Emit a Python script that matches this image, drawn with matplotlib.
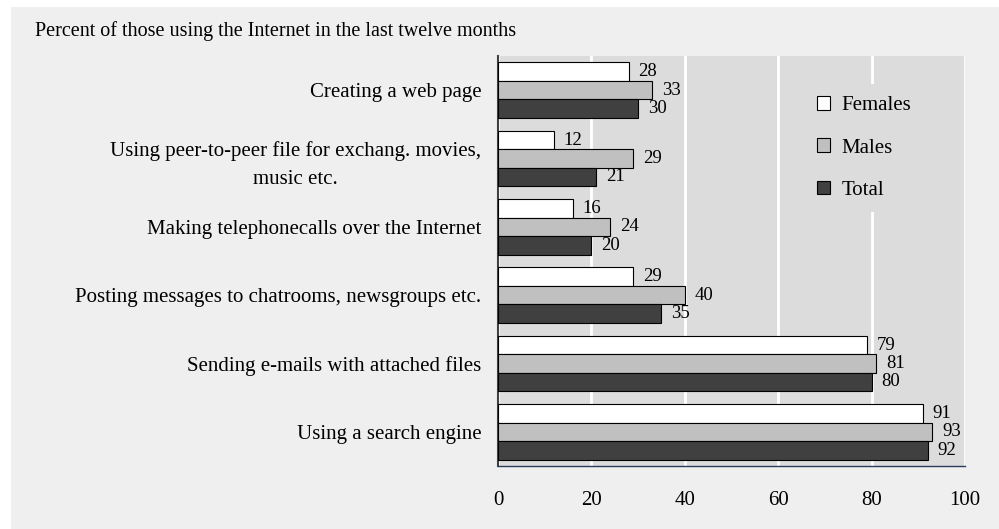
import matplotlib
matplotlib.use('Agg')
import matplotlib.pyplot as plt
import matplotlib.patches as mpatches
import numpy as np

categories = ['Creating a web page',
              'Using peer-to-peer file for exchang. movies,\nmusic etc.',
              'Making telephonecalls over the Internet',
              'Posting messages to chatrooms, newsgroups etc.',
              'Sending e-mails with attached files',
              'Using a search engine']
females = [28, 12, 16, 29, 79, 91]
males = [33, 29, 24, 40, 81, 93]
total = [30, 21, 20, 35, 80, 92]
series_names = ['Females', 'Males', 'Total']
colors = ['#ffffff', '#c0c0c0', '#404040']
xticks = [0, 20, 40, 60, 80, 100]

plt.rcParams['font.family'] = ['Liberation Serif', 'DejaVu Serif']

fig = plt.figure(figsize=(9.99, 5.29), dpi=100, facecolor='white')
# light grey panel behind everything, leaving a thin white margin top/left
fig.patches.append(mpatches.Rectangle((11 / 999, 0), 1, 1 - 7 / 529,
                                      transform=fig.transFigure,
                                      facecolor='#efefef', edgecolor='none', zorder=-1))

ax = fig.add_axes([498 / 999, 63 / 529, 467 / 999, 410 / 529])
ax.set_facecolor('#dcdcdc')

y = np.arange(len(categories))
h = 0.27
all_series = [females, males, total]
for i, (vals, name, c) in enumerate(zip(all_series, series_names, colors)):
    bars = ax.barh(y + (i - 1) * h, vals, h, color=c, edgecolor='black',
                   linewidth=0.8, label=name, zorder=3)
    for rect, v in zip(bars, vals):
        ax.annotate(str(v), xy=(v, rect.get_y() + rect.get_height() / 2),
                    xytext=(7, 0), textcoords='offset points',
                    ha='left', va='center', fontsize=13.5, zorder=4)

ax.set_xlim(0, 100)
ax.set_ylim(len(categories) - 0.5, -0.5)
ax.set_xticks(xticks)
ax.set_yticks(y)
ax.set_yticklabels(categories, fontsize=15)
for lbl in ax.get_yticklabels():
    lbl.set_multialignment('center')
    lbl.set_linespacing(1.6)
ax.tick_params(axis='both', length=0, labelsize=15)
ax.tick_params(axis='y', pad=12)
ax.tick_params(axis='x', pad=18)

ax.grid(axis='x', color='white', linewidth=2, zorder=1)
ax.set_axisbelow(True)

ax.spines['top'].set_visible(False)
ax.spines['right'].set_visible(False)
ax.spines['left'].set_color('#404040')
ax.spines['left'].set_linewidth(1.5)
ax.spines['bottom'].set_color('#2a3a5c')
ax.spines['bottom'].set_linewidth(1)

leg = ax.legend(loc='upper left', bbox_to_anchor=(0.633, 0.958), fontsize=15,
                frameon=True, facecolor='#dcdcdc', edgecolor='none', framealpha=1,
                handlelength=0.65, handleheight=0.65, handletextpad=0.55,
                labelspacing=1.1, borderpad=0.6, fancybox=False)
leg.set_zorder(5)

fig.text(35 / 999, 1 - 31 / 529, 'Percent of those using the Internet in the last twelve months',
         fontsize=14.5, ha='left', va='center')

fig.savefig('out.png', dpi=100, facecolor=fig.get_facecolor())
